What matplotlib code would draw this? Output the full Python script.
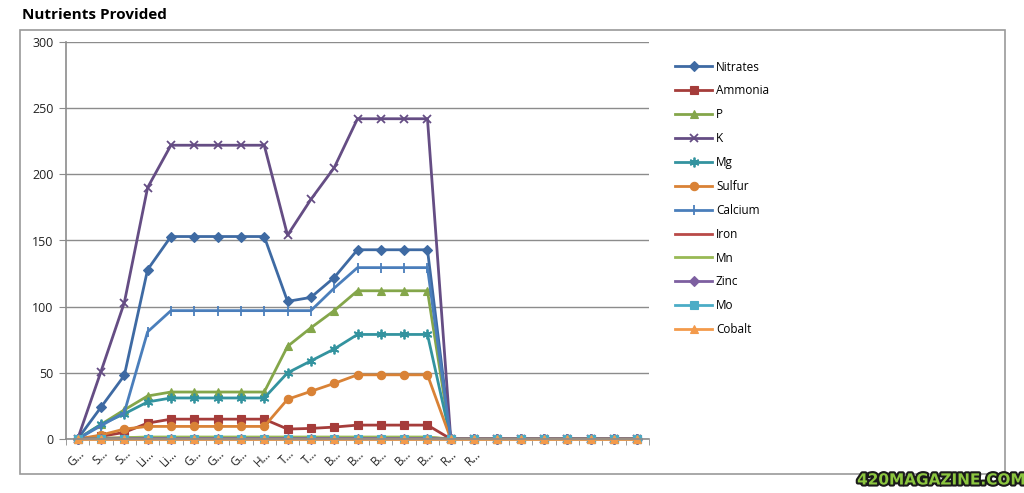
import matplotlib
matplotlib.use("Agg")
import matplotlib.pyplot as plt
from matplotlib.patches import Rectangle
import matplotlib.patheffects as pe

plt.rcParams['font.family'] = ['Open Sans', 'DejaVu Sans']

categories = ["G…", "S…", "S…", "Li…", "Li…", "G…", "G…", "G…", "H…", "T…", "T…",
              "B…", "B…", "B…", "B…", "B…", "R…", "R…", "", "", "", "", "", "", ""]

tail = [0] * 9
nitrates = [0, 24, 48, 128, 153, 153, 153, 153, 153, 104, 107, 122, 143, 143, 143, 143] + tail
ammonia  = [0, 2, 5, 12, 15, 15, 15, 15, 15, 7.5, 8, 9, 10.5, 10.5, 10.5, 10.5] + tail
p_vals   = [0, 11, 22, 32.5, 35.5, 35.5, 35.5, 35.5, 35.5, 70, 84, 97, 112, 112, 112, 112] + tail
k_vals   = [0, 51, 103, 190, 222, 222, 222, 222, 222, 154, 181, 205, 242, 242, 242, 242] + tail
mg       = [0, 11, 19, 28, 31, 31, 31, 31, 31, 50, 59, 68, 79, 79, 79, 79] + tail
sulfur   = [0, 3, 7.5, 9.5, 9.5, 9.5, 9.5, 9.5, 9.5, 30, 36, 42, 48.5, 48.5, 48.5, 48.5] + tail
calcium  = [0, 10, 20, 81, 97, 97, 97, 97, 97, 97, 97, 114, 129.5, 129.5, 129.5, 129.5] + tail
iron     = [0, 0.5, 0.8, 1, 1, 1, 1, 1, 1, 1, 1, 1, 1, 1, 1, 1] + tail
mn       = [0, 0.5, 1, 1.5, 1.5, 1.5, 1.5, 1.5, 1.5, 1.5, 1.5, 1.5, 1.5, 1.5, 1.5, 1.5] + tail
zinc     = [0, 0.1, 0.2, 0.3, 0.3, 0.3, 0.3, 0.3, 0.3, 0.3, 0.3, 0.3, 0.3, 0.3, 0.3, 0.3] + tail
mo       = [0] * 25
cobalt   = [0] * 25

series = [
    ("Nitrates", nitrates, "#3E6AA3", "D", 5),
    ("Ammonia", ammonia, "#A53C3A", "s", 5.5),
    ("P", p_vals, "#84A64A", "^", 6),
    ("K", k_vals, "#654D84", "x", 6),
    ("Mg", mg, "#33939F", (6, 2, 0), 7),
    ("Sulfur", sulfur, "#D98236", "o", 6),
    ("Calcium", calcium, "#4A7EBB", "|", 7),
    ("Iron", iron, "#B94A48", None, 0),
    ("Mn", mn, "#98B954", None, 0),
    ("Zinc", zinc, "#7D5FA0", "D", 5),
    ("Mo", mo, "#4BACC6", "s", 5.5),
    ("Cobalt", cobalt, "#F39A4B", "^", 6),
]

fig = plt.figure(figsize=(10.24, 4.93), dpi=100)
ax = fig.add_axes([66/1024, 1 - 439/493, (649-66)/1024, (439-42)/493])

x = list(range(len(categories)))
for name, vals, color, marker, ms in series:
    ax.plot(x, vals, color=color, lw=2.0, marker=marker, markersize=ms,
            markeredgewidth=1.3 if marker in ("x", "|") or isinstance(marker, tuple) else 0.8,
            markerfacecolor=color, markeredgecolor=color, label=name, clip_on=False)

ax.set_xlim(-0.5, len(categories) - 0.5)
ax.set_ylim(0, 300)
ax.set_yticks(range(0, 301, 50))
ax.yaxis.grid(True, color="#8C8C8C", lw=1.0)
ax.set_axisbelow(True)
ax.set_xticks(x)
ax.set_xticklabels(categories, rotation=45, ha="right", rotation_mode="anchor", fontsize=8.5, color="#222222")
ax.set_xticks([i - 0.5 for i in range(len(categories) + 1)], minor=True)
ax.tick_params(axis="x", which="major", length=0, pad=6)
ax.tick_params(axis="x", which="minor", length=4, color="#8C8C8C")
ax.tick_params(axis="y", length=5, color="#8C8C8C", labelsize=9, labelcolor="#222222", pad=4)
for s in ("top", "right"):
    ax.spines[s].set_visible(False)
ax.spines["left"].set_color("#8C8C8C")
ax.spines["bottom"].set_color("#8C8C8C")
ax.spines["left"].set_linewidth(1.2)
ax.spines["bottom"].set_linewidth(1.2)

leg = fig.legend(loc="upper left", bbox_to_anchor=(664/1024, 1 - 50/493), frameon=False,
                 fontsize=8.5, handlelength=3.2, handletextpad=0.3, labelspacing=0.92)

fig.patches.append(Rectangle((20/1024, 1 - 474/493), (1005-20)/1024, (474-30)/493,
                             transform=fig.transFigure, fill=False, edgecolor="#9A9A9A", lw=1.2))
fig.text(22/1024, 1 - 15/493, "Nutrients Provided", fontsize=11, fontweight="bold", va="center", ha="left")

fig.text(941/1024, 1 - 480/493, "420MAGAZINE.COM", fontsize=11, fontweight="bold", color="#8CC63F",
         ha="center", va="center", family="DejaVu Sans",
         path_effects=[pe.withStroke(linewidth=3, foreground="#1A1A1A")])

fig.savefig("out.png", dpi=100, facecolor="white")
